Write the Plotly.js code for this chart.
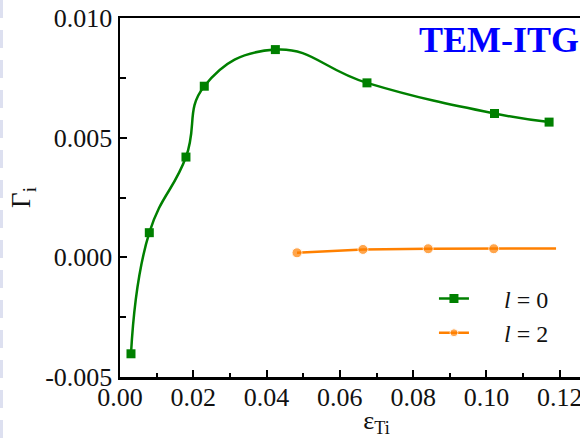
<!DOCTYPE html>
<html>
<head>
<meta charset="utf-8">
<script src="https://cdn.plot.ly/plotly-3.0.1.min.js"></script>
<style>
html,body{margin:0;padding:0;background:#fff;overflow:hidden;width:580px;height:445px;}
#chart{width:640px;height:445px;}
#edge{position:absolute;left:0;top:0;width:3px;height:445px;
 background:repeating-linear-gradient(to bottom,#dde0f0 0px,#dde0f0 18px,#fff 18px,#fff 30px);}
</style>
</head>
<body>
<div id="chart"></div>
<div id="edge"></div>
<script>
// Data
const epsL0 = [0.003, 0.008, 0.018, 0.023, 0.0424, 0.0674, 0.1022, 0.1171];
const gammaL0 = [-0.00403, 0.00103, 0.00419, 0.00715, 0.00868, 0.00729, 0.00601, 0.00565];
const epsL2 = [0.0483, 0.0663, 0.0841, 0.102, 0.119];
const gammaL2 = [0.00019, 0.00033, 0.00036, 0.00036, 0.00037];
const markerL2 = [10, 10, 10, 10, 0];
const xTickVals = [0, 0.02, 0.04, 0.06, 0.08, 0.10, 0.12, 0.14];
const xTickText = ["0.00", "0.02", "0.04", "0.06", "0.08", "0.10", "0.12", "0.14"];
const yTickVals = [-0.005, 0, 0.005, 0.010];
const yTickText = ["-0.005", "0.000", "0.005", "0.010"];

const serif = '"Liberation Serif", "Times New Roman", serif';

const traces = [
  {
    x: epsL0, y: gammaL0, type: "scatter", mode: "lines+markers",
    name: "\u00a0\u00a0\u00a0\u00a0\u00a0<i>l</i> = 0",
    line: {color: "#008000", width: 2.5, shape: "spline", smoothing: 1.3},
    marker: {symbol: "square", size: 9, color: "#008000"}
  },
  {
    x: epsL2, y: gammaL2, type: "scatter", mode: "lines+markers",
    name: "\u00a0\u00a0\u00a0\u00a0\u00a0<i>l</i> = 2",
    line: {color: "#ff8000", width: 2.5},
    marker: {symbol: "circle", size: markerL2, color: "#ff8000"}
  }
];

const axisCommon = {
  showgrid: false, zeroline: false, showline: true, linecolor: "#000", linewidth: 2.5,
  mirror: true, ticks: "inside", ticklen: 7, tickwidth: 2, tickcolor: "#000",
  tickfont: {family: serif, size: 26, color: "#111"}
};

const layout = {
  width: 640, height: 445,
  margin: {l: 120, r: 7, t: 18, b: 68},
  paper_bgcolor: "#fff", plot_bgcolor: "#fff",
  showlegend: true,
  legend: {x: 0.612, y: 0.28, xanchor: "left", yanchor: "top", bgcolor: "rgba(0,0,0,0)",
           font: {family: serif, size: 24, color: "#111"}, tracegroupgap: 0},
  xaxis: Object.assign({}, axisCommon, {
    range: [0, 0.14], tickvals: xTickVals, ticktext: xTickText,
    ticklabelstandoff: -5,
    minor: {ticks: "inside", ticklen: 4, tickwidth: 2, tickcolor: "#000", dtick: 0.01, tick0: 0},
    title: {text: "\u03b5<sub>Ti</sub>", font: {family: serif, size: 26, color: "#111"}, standoff: 0}
  }),
  yaxis: Object.assign({}, axisCommon, {
    range: [-0.005, 0.010], tickvals: yTickVals, ticktext: yTickText,
    minor: {ticks: "inside", ticklen: 6, tickwidth: 2, tickcolor: "#000", dtick: 0.0025, tick0: 0},
    title: {text: "\u0393<sub>i</sub>", font: {family: serif, size: 27, color: "#111"}, standoff: 7}
  }),
  annotations: [
    {text: "<b>TEM-ITG</b>", xref: "paper", yref: "paper", x: 0.578, y: 0.94,
     xanchor: "left", yanchor: "middle", showarrow: false,
     font: {family: serif, size: 36, color: "#0000ff"}}
  ]
};

Plotly.newPlot("chart", traces, layout, {displayModeBar: false, staticPlot: true});
</script>
</body>
</html>
